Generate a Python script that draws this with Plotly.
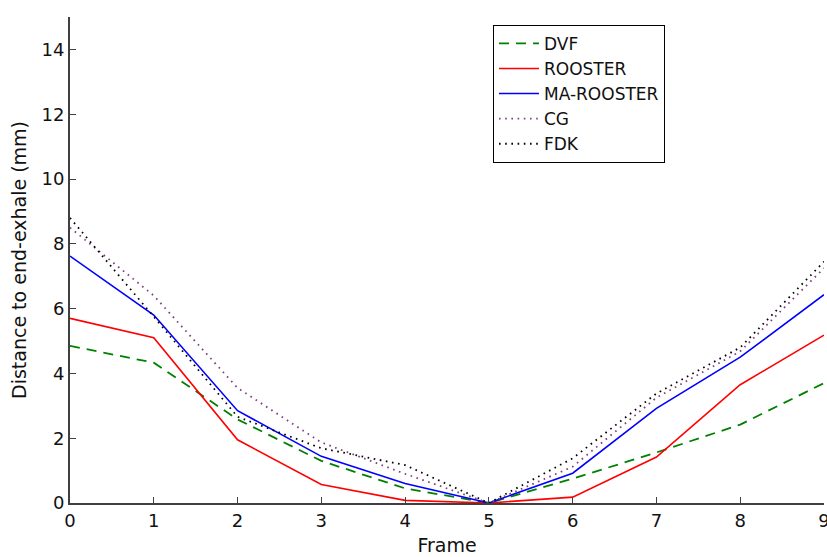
import plotly.graph_objects as go

# Frame index along the breathing cycle
frames = [0, 1, 2, 3, 4, 5, 6, 7, 8, 9]

# Distance to end-exhale (mm) per reconstruction method
dvf = [4.85, 4.33, 2.58, 1.30, 0.45, 0.0, 0.75, 1.56, 2.42, 3.70]
rooster = [5.70, 5.10, 1.95, 0.57, 0.08, 0.0, 0.18, 1.42, 3.65, 5.18]
ma_rooster = [7.62, 5.80, 2.85, 1.44, 0.60, 0.0, 0.92, 2.92, 4.50, 6.43]
cg = [8.50, 6.40, 3.55, 1.87, 0.90, 0.0, 1.12, 3.25, 4.68, 7.25]
fdk = [8.80, 5.75, 2.66, 1.69, 1.17, 0.0, 1.38, 3.38, 4.80, 7.45]

y_ticks = [0, 2, 4, 6, 8, 10, 12, 14]

series = [
    ("DVF", dvf, "#008000", "10px,7px", 1.8),
    ("ROOSTER", rooster, "#ff0000", "solid", 1.6),
    ("MA-ROOSTER", ma_rooster, "#0000ff", "solid", 1.6),
    ("CG", cg, "#7f3f7f", "1.6px,4.6px", 1.8),
    ("FDK", fdk, "#000000", "1.6px,4.6px", 1.8),
]

fig = go.Figure()
for name, vals, color, dash, width in series:
    fig.add_trace(go.Scatter(
        x=frames, y=vals, mode="lines", name=name,
        line=dict(color=color, dash=dash, width=width),
    ))

font = "DejaVu Sans, Liberation Sans, sans-serif"
spine = "#404040"

fig.update_layout(
    width=827, height=557,
    margin=dict(l=70, r=3, t=17, b=54, autoexpand=False),
    plot_bgcolor="white", paper_bgcolor="white",
    font=dict(family=font, size=18, color="#111111"),
    showlegend=True,
    legend=dict(
        x=0.561, y=0.984, xanchor="left", yanchor="top",
        bgcolor="white", bordercolor="#000000", borderwidth=1,
        font=dict(family=font, size=17, color="#111111"),
        itemwidth=40, tracegroupgap=0,
    ),
    xaxis=dict(
        range=[0, 9], tickvals=frames, ticks="inside", ticklen=6,
        tickwidth=1, tickcolor=spine, showline=True, linecolor=spine,
        linewidth=2, showgrid=False, zeroline=False,
        ticklabeloverflow="allow", automargin=False,
        tickfont=dict(size=18),
        title=dict(text="Frame", standoff=9, font=dict(size=19)),
    ),
    yaxis=dict(
        range=[0, 15], tickvals=y_ticks, ticks="inside", ticklen=6,
        tickwidth=1, tickcolor=spine, showline=True, linecolor=spine,
        linewidth=2, showgrid=False, zeroline=False, automargin=False,
        tickfont=dict(size=18),
        title=dict(text="Distance to end-exhale (mm)", standoff=10,
                   font=dict(size=19)),
    ),
    yaxis2=dict(
        overlaying="y", side="right", range=[0, 15], tickvals=y_ticks,
        ticks="inside", ticklen=6, tickwidth=1, tickcolor=spine,
        showticklabels=False, showline=False, showgrid=False,
        zeroline=False, automargin=False,
    ),
)

fig.write_html("out.html")
